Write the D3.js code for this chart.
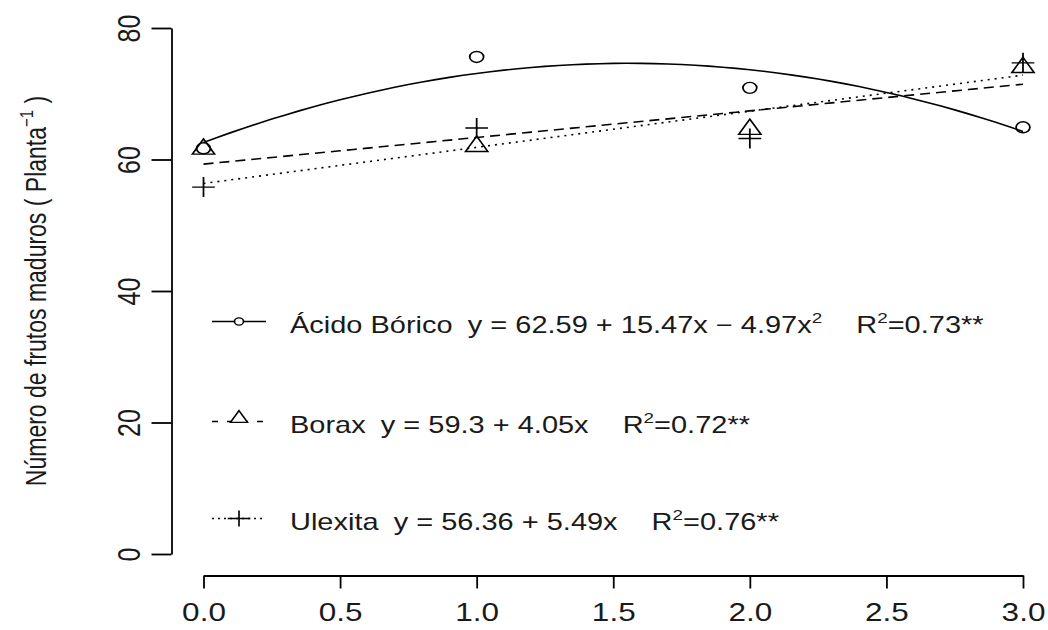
<!DOCTYPE html>
<html>
<head>
<meta charset="utf-8">
<script src="https://cdn.jsdelivr.net/npm/d3@7/dist/d3.min.js"></script>
<style>
    body { margin: 0; background: #fff; }
    svg { font-family: "Liberation Sans", Arial, sans-serif; }
</style>
</head>
<body>
<div id="chart"></div>
<script>
// doses of boron (x axis)
const doses = [0, 1, 2, 3];
const acidoBorico = [61.7, 75.6, 70.9, 64.9];
const borax = [61.6, 62.0, 64.6, 74.0];
const ulexita = [55.8, 64.8, 63.2, 74.7];
// regression coefficients printed in the legend: intercept, x, x^2
const coefAcido = [62.59, 15.47, -4.97];
const coefBorax = [59.3, 4.05, 0];
const coefUlexita = [56.36, 5.49, 0];
const seriesNames = ["Ácido Bórico", "Borax", "Ulexita"];
const r2Labels = ["0.73**", "0.72**", "0.76**"];
const xTicks = [0, 0.5, 1, 1.5, 2, 2.5, 3];
const yTicks = [0, 20, 40, 60, 80];

const width = 1048, height = 630;
const stretch = 1.26; // the original picture is wider than its fonts

const svg = d3.select("#chart").append("svg")
    .attr("width", width)
    .attr("height", height);

const xScale = d3.scaleLinear().domain([0, 3]).range([203.5, 1023]);
const yScale = d3.scaleLinear().domain([0, 80]).range([554, 28]);

// x axis
const xAxisG = svg.append("g")
    .attr("class", "xAxisG")
    .attr("transform", "translate(0,575.5)")
    .call(d3.axisBottom(xScale).tickValues(xTicks).tickSize(13).tickSizeOuter(0)
        .tickFormat(d3.format(".1f")));

xAxisG.selectAll("text")
    .attr("y", null).attr("dy", null)
    .attr("transform", "translate(0,45) scale(" + stretch + ",1)")
    .attr("font-size", 25)
    .attr("fill", "#1a1a1a");

// y axis, labels parallel to the axis
const yAxisG = svg.append("g")
    .attr("class", "yAxisG")
    .attr("transform", "translate(171.5,0)")
    .call(d3.axisLeft(yScale).tickValues(yTicks).tickSize(20).tickSizeOuter(0));

yAxisG.selectAll("text")
    .attr("x", null).attr("dy", null)
    .attr("text-anchor", "middle")
    .attr("transform", "translate(-32,0) scale(" + stretch + ",1) rotate(-90)")
    .attr("font-size", 25)
    .attr("fill", "#1a1a1a");

svg.selectAll(".domain, .tick line")
    .attr("stroke", "#000")
    .attr("stroke-width", 1.8);
svg.selectAll(".domain").attr("fill", "none");

// y label
const yLabel = svg.append("text")
    .attr("transform", "translate(46,291) scale(" + stretch + ",1) rotate(-90)")
    .attr("text-anchor", "middle")
    .attr("font-size", 23)
    .attr("fill", "#1a1a1a");
yLabel.append("tspan").text("Número de frutos maduros ( Planta");
yLabel.append("tspan").attr("font-size", 15).attr("dy", -10).text("−1");
yLabel.append("tspan").attr("dy", 10).text(" )");

// fitted curves from the printed equations
const fitX = d3.range(0, 3.0001, 0.05);
const series = [
    {name: seriesNames[0], values: acidoBorico, coef: coefAcido, dash: null, shape: "circle", r2: r2Labels[0]},
    {name: seriesNames[1], values: borax, coef: coefBorax, dash: "10,6", shape: "triangle", r2: r2Labels[1]},
    {name: seriesNames[2], values: ulexita, coef: coefUlexita, dash: "2,5", shape: "plus", r2: r2Labels[2]}
];

const line = d3.line()
    .x(d => xScale(d[0]))
    .y(d => yScale(d[1]));

series.forEach(s => {
    const pts = fitX.map(x => [x, s.coef[0] + s.coef[1] * x + s.coef[2] * x * x]);
    svg.append("path")
        .attr("d", line(pts))
        .attr("fill", "none")
        .attr("stroke", "#000")
        .attr("stroke-width", 1.6)
        .attr("stroke-dasharray", s.dash);
});

function shapePath(shape, big) {
    if (shape === "circle") return d3.symbol(d3.symbolCircle, big ? 95 : 40)();
    if (shape === "triangle") return d3.symbol(d3.symbolTriangle, big ? 135 : 80)();
    return big ? "M-9,0H9M0,-10V10" : "M-9,0H9M0,-8V8";
}

// observed points
series.forEach(s => {
    svg.append("g").selectAll("path")
        .data(doses.map((d, i) => [d, s.values[i]]))
        .join("path")
        .attr("d", shapePath(s.shape, true))
        .attr("transform", d => "translate(" + xScale(d[0]) + "," + yScale(d[1]) + ") scale(" + stretch + ",1)")
        .attr("fill", "none")
        .attr("stroke", "#000")
        .attr("stroke-width", 1.4);
});

// legend
const legendY = [321.5, 421.5, 518.5];
series.forEach((s, i) => {
    const g = svg.append("g").attr("transform", "translate(0," + legendY[i] + ")");
    g.append("line")
        .attr("x1", 212).attr("x2", 266)
        .attr("stroke", "#000")
        .attr("stroke-width", 1.6)
        .attr("stroke-dasharray", s.dash ? (i === 1 ? "6,9" : "2,4") : null);
    g.append("path")
        .attr("d", shapePath(s.shape, false))
        .attr("transform", "translate(239," + (s.shape === "triangle" ? -3 : 0) + ") scale(" + stretch + ",1)")
        .attr("fill", "#fff")
        .attr("stroke", "#000")
        .attr("stroke-width", 1.3);

    const c = s.coef;
    let eq = "y = " + c[0] + " + " + c[1] + "x";
    if (c[2]) eq += " − " + Math.abs(c[2]) + "x";

    const t = g.append("text")
        .attr("transform", "translate(290,11.5) scale(" + stretch + ",1)")
        .attr("font-size", 23)
        .attr("fill", "#1a1a1a");
    t.append("tspan").text(s.name);
    t.append("tspan").attr("dx", 12).text(eq);
    if (c[2]) {
        t.append("tspan").attr("font-size", 15).attr("dy", -10).text("2");
        t.append("tspan").attr("dx", 27).attr("dy", 10).text("R");
    } else {
        t.append("tspan").attr("dx", 27).text("R");
    }
    t.append("tspan").attr("font-size", 15).attr("dy", -10).text("2");
    t.append("tspan").attr("dy", 10).text("=" + s.r2);
});
</script>
</body>
</html>
